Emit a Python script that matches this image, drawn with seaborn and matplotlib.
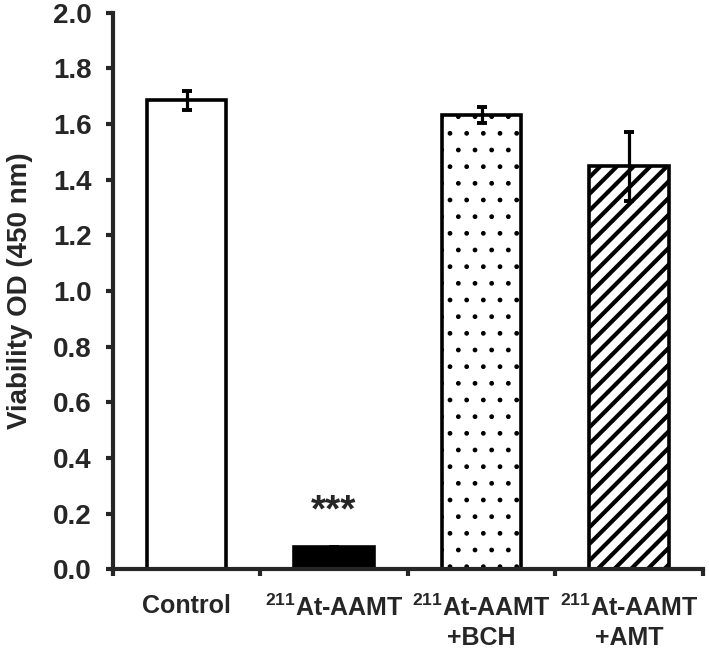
import numpy as np
import pandas as pd
import matplotlib
matplotlib.use("Agg")
import matplotlib.pyplot as plt
import seaborn as sns

# values
conditions = ["Control", "At-AAMT", "At-AAMT+BCH", "At-AAMT+AMT"]
tick_labels = ["Control", "$^{211}$At-AAMT", "$^{211}$At-AAMT\n+BCH", "$^{211}$At-AAMT\n+AMT"]
viability = [1.685, 0.08, 1.632, 1.448]
sem = [0.035, 0.0, 0.028, 0.125]
fills = ["white", "black", "white", "white"]
hatches = ["", "", ".", "//"]
hatch_widths = [1.0, 1.0, 1.0, 3.0]
y_ticks = [0.0, 0.2, 0.4, 0.6, 0.8, 1.0, 1.2, 1.4, 1.6, 1.8, 2.0]

sns.set_style("ticks")
plt.rcParams["font.family"] = ["Liberation Sans", "DejaVu Sans"]
plt.rcParams["font.weight"] = "bold"
plt.rcParams["mathtext.default"] = "regular"
plt.rcParams["hatch.linewidth"] = 3.0
plt.rcParams["hatch.color"] = "black"

df = pd.DataFrame({"condition": conditions, "od": viability, "err": sem})

fig = plt.figure(figsize=(7.09, 6.52), dpi=100)
ax = fig.add_axes([0.159, 0.127, 0.8325, 0.8535])

sns.barplot(data=df, x="condition", y="od", hue="condition", palette=fills,
            legend=False, width=0.54, edgecolor="black", linewidth=2.6,
            errorbar=None, ax=ax)
for patch, h, hw in zip(ax.patches, hatches, hatch_widths):
    patch.set_hatch(h)
    if hasattr(patch, "set_hatch_linewidth"):
        patch.set_hatch_linewidth(hw)

ax.errorbar(np.arange(len(conditions)), df["od"], yerr=df["err"], fmt="none",
            ecolor="black", elinewidth=2.3, capsize=3.8, capthick=2.8, zorder=5)

ax.text(1, 0.17, "***", ha="center", va="baseline", fontsize=28, fontweight="bold")

ax.set_xlim(-0.5, len(conditions) - 0.5)
ax.set_ylim(0, 2.0)
ax.set_yticks(y_ticks)
ax.set_yticklabels([f"{v:.1f}" for v in y_ticks], fontsize=20, fontweight="bold")
ax.set_xticks(np.arange(len(conditions)))
ax.set_xticklabels(tick_labels, fontsize=18, fontweight="bold", linespacing=1.3)
ax.set_xticks(np.arange(-0.5, len(conditions), 1), minor=True)

ax.tick_params(axis="x", which="major", length=0, pad=18)
ax.tick_params(axis="x", which="minor", length=5, width=3, direction="out")
ax.tick_params(axis="y", length=5, width=3, direction="out", pad=10)

ax.set_xlabel("")
ax.set_ylabel("Viability OD (450 nm)", fontsize=20, fontweight="bold")
ax.yaxis.set_label_coords(-0.135, 0.5)

sns.despine(ax=ax)
for side in ["left", "bottom"]:
    ax.spines[side].set_linewidth(3)

fig.savefig("out.png", dpi=100)
